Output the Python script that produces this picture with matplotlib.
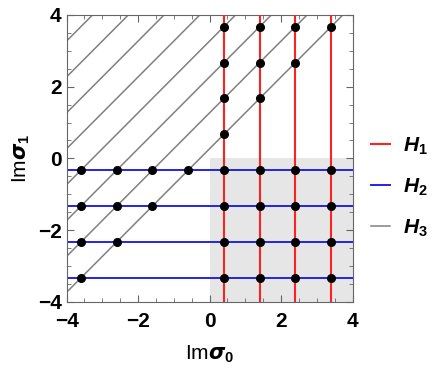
import numpy as np
import matplotlib
matplotlib.use("Agg")
import matplotlib.pyplot as plt

plt.rcParams['font.family'] = 'Liberation Sans'
plt.rcParams['font.weight'] = 'bold'
plt.rcParams['mathtext.fontset'] = 'custom'
plt.rcParams['mathtext.rm'] = 'Liberation Sans:bold'
plt.rcParams['mathtext.it'] = 'Liberation Sans:italic:bold'
plt.rcParams['mathtext.bf'] = 'Liberation Sans:bold'

# lignes H1 (verticales), H2 (horizontales), H3 (diagonales y = x + c)
h1_x = [0.40, 1.40, 2.40, 3.40]
h2_y = [-0.32, -1.32, -2.32, -3.32]
h3_c = [0.27, 1.27, 2.27, 3.27, 4.27, 5.27, 6.27, 7.27]

# points: H1 x H3 (haut), H2 x H3 (gauche), H1 x H2 (zone grise)
pts_h1h3_x = [0.40, 0.40, 0.40, 0.40, 1.40, 1.40, 1.40, 2.40, 2.40, 3.40]
pts_h1h3_y = [0.67, 1.67, 2.67, 3.67, 1.67, 2.67, 3.67, 2.67, 3.67, 3.67]
pts_h2h3_x = [-0.60, -1.60, -2.60, -3.60, -1.60, -2.60, -3.60, -2.60, -3.60, -3.60]
pts_h2h3_y = [-0.32, -0.32, -0.32, -0.32, -1.32, -1.32, -1.32, -2.32, -2.32, -3.32]

fig = plt.figure(figsize=(4.38, 3.71), dpi=100)
ax = fig.add_axes([0.152, 0.186, 0.653, 0.774])

ax.axvspan(0, 4, ymin=0, ymax=0.5, color='#e6e6e6', lw=0, zorder=0)

xx = np.array([-4, 4])
for i, c in enumerate(h3_c):
    ax.plot(xx, xx + c, color='#808080', lw=1.1, zorder=1,
            label='$H_3$' if i == 0 else None)
for i, y in enumerate(h2_y):
    ax.axhline(y, color='#2323e6', lw=1.4, zorder=2,
               label='$H_2$' if i == 0 else None)
for i, x in enumerate(h1_x):
    ax.axvline(x, color='#ff2020', lw=1.5, zorder=3,
               label='$H_1$' if i == 0 else None)

gx, gy = np.meshgrid(h1_x, h2_y)
ax.plot(gx.ravel(), gy.ravel(), 'o', color='black', ms=5.5, zorder=4)
ax.plot(pts_h1h3_x, pts_h1h3_y, 'o', color='black', ms=5.5, zorder=4)
ax.plot(pts_h2h3_x, pts_h2h3_y, 'o', color='black', ms=5.5, zorder=4)

ax.set_xlim(-4, 4)
ax.set_ylim(-4, 4)
ax.set_xticks([-4, -2, 0, 2, 4])
ax.set_yticks([-4, -2, 0, 2, 4])
ax.set_xticks(np.arange(-4, 4.01, 0.5), minor=True)
ax.set_yticks(np.arange(-4, 4.01, 0.5), minor=True)
ax.tick_params(which='both', direction='in', top=True, right=True,
               color='#666666', labelsize=15)
ax.tick_params(which='major', length=5)
ax.tick_params(which='minor', length=3)
ax.tick_params(axis='x', pad=7)
for s in ax.spines.values():
    s.set_color('#666666')

ax.set_xlabel(r'Im$\boldsymbol{\sigma}_0$', fontsize=15, labelpad=9)
ax.set_ylabel(r'Im$\boldsymbol{\sigma}_1$', fontsize=15, labelpad=4)

h, l = ax.get_legend_handles_labels()
order = [l.index('$H_1$'), l.index('$H_2$'), l.index('$H_3$')]
ax.legend([h[i] for i in order], [l[i] for i in order], loc='center left',
          bbox_to_anchor=(1.0, 0.40), frameon=False, fontsize=15,
          handlelength=0.9, labelspacing=0.95, handletextpad=0.6)

fig.savefig('out.png', dpi=100)
